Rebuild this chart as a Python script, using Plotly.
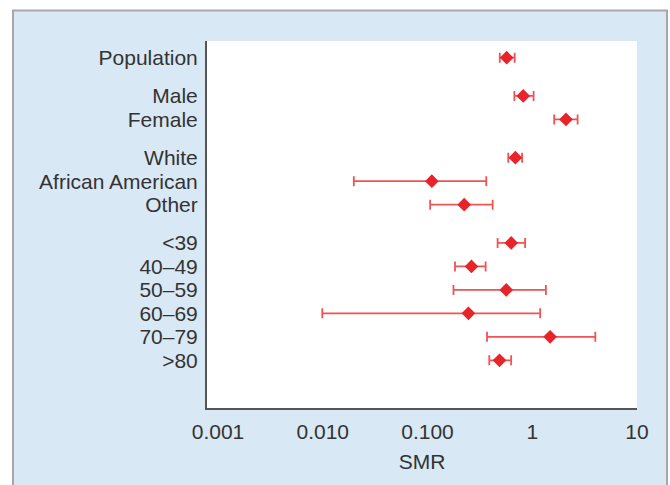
import plotly.graph_objects as go

categories = ["Population", "Male", "Female", "White", "African American", "Other",
              "<39", "40–49", "50–59", "60–69", "70–79", ">80"]
groups = [1, 2, 3, 6]  # number of rows in each group
smr = [0.57, 0.82, 2.10, 0.69, 0.110, 0.224, 0.63, 0.263, 0.565, 0.246, 1.48, 0.487]
ci_low = [0.49, 0.675, 1.62, 0.59, 0.0198, 0.106, 0.467, 0.183, 0.177, 0.0099, 0.37, 0.389]
ci_high = [0.68, 1.03, 2.71, 0.80, 0.364, 0.419, 0.855, 0.359, 1.35, 1.19, 4.0, 0.629]
tick_vals = [0.001, 0.01, 0.1, 1, 10]
tick_text = ["0.001", "0.010", "0.100", "1", "10"]

# row positions with gaps between groups
GAP = 0.63
ypos = []
y = 0.0
for n in groups:
    for k in range(n):
        ypos.append(y)
        y += 1
    y += GAP

FONT = "Liberation Sans, Arial, sans-serif"
RED = "#e8232a"
EBAR = "#ef5353"

fig = go.Figure()
fig.add_trace(go.Scatter(
    x=smr, y=ypos, mode="markers",
    marker=dict(symbol="diamond", size=10.5, color=RED, line=dict(width=0)),
    error_x=dict(type="data", symmetric=False,
                 array=[h - m for h, m in zip(ci_high, smr)],
                 arrayminus=[m - l for m, l in zip(smr, ci_low)],
                 color=EBAR, thickness=1.8, width=5),
    showlegend=False, hoverinfo="skip",
))

W, H = 670, 485
L, R, T, B = 207, W - 637, 41, H - 408
pw, ph = W - L - R, H - T - B

def px_x(p):
    return (p - L) / pw

def px_y(p):
    return (H - B - p) / ph

fig.add_shape(type="rect", xref="paper", yref="paper", layer="below",
              x0=px_x(13), x1=px_x(667), y0=px_y(520), y1=px_y(10.5),
              fillcolor="#d9e8f5", line=dict(color="#a8a8a8", width=2))
fig.add_shape(type="rect", xref="paper", yref="paper", layer="below",
              x0=0, x1=1, y0=0, y1=1, fillcolor="white", line=dict(width=0))

fig.update_layout(
    width=W, height=H,
    margin=dict(l=L, r=R, t=T, b=B),
    paper_bgcolor="white", plot_bgcolor="white",
    font=dict(family=FONT, size=21, color="#333333"),
    xaxis=dict(type="log", range=[-3.105, 1.0001], tickvals=tick_vals, ticktext=tick_text,
               showgrid=False, zeroline=False, showline=True, linecolor="#555555",
               linewidth=2, ticks="", ticklabelstandoff=4,
               title=dict(text="SMR", standoff=12, font=dict(size=21))),
    yaxis=dict(range=[ypos[-1] + 2.03, -0.71], tickvals=ypos, ticktext=categories,
               showgrid=False, zeroline=False, showline=True, linecolor="#555555",
               linewidth=2, ticks="", ticklabelstandoff=3),
)

fig.write_html("out.html", config={"displayModeBar": False},
               post_script="document.body.style.margin='0';document.body.style.overflow='hidden';")
